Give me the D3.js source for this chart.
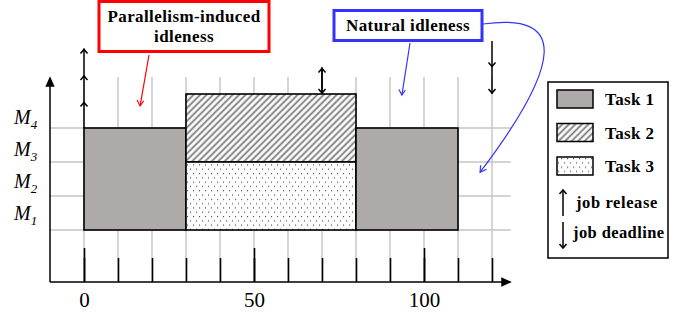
<!DOCTYPE html>
<html>
<head>
<meta charset="utf-8">
<script src="https://cdn.jsdelivr.net/npm/d3@7"></script>
<style>
  body { margin: 0; background: #fff; }
  .lbl { font-family: 'Liberation Serif', serif; font-weight: bold; letter-spacing: 0.4px; }
</style>
</head>
<body>
<script>
// schedule data (time units, machine rows)
const machines = ['M1', 'M2', 'M3', 'M4'];
const tickValues = [0, 10, 20, 30, 40, 50, 60, 70, 80, 90, 100, 110, 120];
const tickLabels = [0, 50, 100];
const blocks = [
  { task: 'Task 1', start: 0, end: 30, lo: 0, hi: 3 },
  { task: 'Task 2', start: 30, end: 80, lo: 2, hi: 4 },
  { task: 'Task 3', start: 30, end: 80, lo: 0, hi: 2 },
  { task: 'Task 1', start: 80, end: 110, lo: 0, hi: 3 },
];
// release / deadline arrows: time, count, base row
const releases = [{ t: 0, n: 3, base: 3 }, { t: 70, n: 1, base: 4 }];
const deadlines = [{ t: 70, n: 1, base: 4 }, { t: 120, n: 2, base: 4 }];
const legendItems = ['Task 1', 'Task 2', 'Task 3'];

const W = 688;
const H = 318;
const svg = d3.select('body').append('svg')
  .attr('width', W)
  .attr('height', H);

const x = d3.scaleLinear().domain([0, 120]).range([84, 492]);
const y = d3.scaleLinear().domain([0, 4]).range([230, 94]);
const axisY = 282;
const axisX = x(-10);
const arrowLen = 0.78;

const defs = svg.append('defs');
const hatch = defs.append('pattern')
  .attr('id', 'hatch')
  .attr('patternUnits', 'userSpaceOnUse')
  .attr('width', 4.6)
  .attr('height', 4.6)
  .attr('patternTransform', 'rotate(45)');
hatch.append('rect').attr('width', 4.6).attr('height', 4.6).attr('fill', '#fff');
hatch.append('line')
  .attr('x1', 1.5).attr('y1', 0).attr('x2', 1.5).attr('y2', 4.6)
  .attr('stroke', '#7a7a7a').attr('stroke-width', 1.8);

const dots = defs.append('pattern')
  .attr('id', 'dots')
  .attr('patternUnits', 'userSpaceOnUse')
  .attr('width', 6)
  .attr('height', 8.6);
dots.append('rect').attr('width', 6).attr('height', 8.6).attr('fill', '#fff');
dots.append('rect').attr('x', 1).attr('y', 1).attr('width', 1.1).attr('height', 1.1).attr('fill', '#444');
dots.append('rect').attr('x', 4).attr('y', 5.3).attr('width', 1.1).attr('height', 1.1).attr('fill', '#444');

const fills = { 'Task 1': '#aeaaa9', 'Task 2': 'url(#hatch)', 'Task 3': 'url(#dots)' };

// grid
svg.append('g').selectAll('line')
  .data(tickValues)
  .enter().append('line')
  .attr('x1', (d) => x(d)).attr('x2', (d) => x(d))
  .attr('y1', y(4.5)).attr('y2', axisY)
  .attr('stroke', '#c4c4c4').attr('stroke-width', 1.4);

svg.append('g').selectAll('line')
  .data(d3.range(machines.length))
  .enter().append('line')
  .attr('x1', axisX).attr('x2', x(125.5))
  .attr('y1', (d) => y(d)).attr('y2', (d) => y(d))
  .attr('stroke', '#c4c4c4').attr('stroke-width', 1.4);

// tick marks and labels
svg.append('g')
  .attr('transform', `translate(0,${axisY})`)
  .call(d3.axisBottom(x).tickValues(tickValues).tickSize(-24).tickFormat(''))
  .call((g) => g.select('.domain').remove())
  .call((g) => g.selectAll('.tick line').attr('stroke', '#000').attr('stroke-width', 1.6));

svg.append('g')
  .attr('transform', `translate(0,${axisY})`)
  .call(d3.axisBottom(x).tickValues(tickLabels).tickSize(-34).tickPadding(10))
  .call((g) => g.select('.domain').remove())
  .call((g) => g.selectAll('.tick line').attr('stroke', '#000').attr('stroke-width', 1.6))
  .call((g) => g.selectAll('.tick text')
    .attr('font-family', 'Liberation Serif, serif')
    .attr('font-size', 21)
    .attr('fill', '#000'));

// task blocks
svg.append('g').selectAll('rect')
  .data(blocks)
  .enter().append('rect')
  .attr('x', (d) => x(d.start))
  .attr('y', (d) => y(d.hi))
  .attr('width', (d) => x(d.end) - x(d.start))
  .attr('height', (d) => y(d.lo) - y(d.hi))
  .attr('fill', (d) => fills[d.task])
  .attr('stroke', '#000')
  .attr('stroke-width', 1.6);

// axes with arrow heads
const axes = svg.append('g').attr('stroke', '#000').attr('fill', 'none').attr('stroke-width', 1.5);
axes.append('line').attr('x1', axisX).attr('y1', axisY).attr('x2', axisX).attr('y2', 80);
axes.append('path').attr('d', `M${axisX - 3.5},${86} L${axisX},${78} L${axisX + 3.5},${86} Z`).attr('fill', '#000');
axes.append('line').attr('x1', axisX).attr('y1', axisY).attr('x2', 508).attr('y2', axisY);
axes.append('path').attr('d', `M${502},${axisY - 3.5} L${510},${axisY} L${502},${axisY + 3.5} Z`).attr('fill', '#000');

// machine labels
const ml = svg.append('g');
machines.forEach((m, i) => {
  const t = ml.append('text')
    .attr('x', 14)
    .attr('y', y(i + 0.3) + i * 2)
    .attr('font-family', 'Liberation Serif, serif')
    .attr('font-style', 'italic')
    .attr('font-size', 20);
  t.append('tspan').text('M');
  t.append('tspan').attr('dy', 5).attr('font-size', 13).text(m.slice(1));
});

// arrows
function chevron(cx, cy, dir) {
  return `M${cx - 3.5},${cy + 4 * dir} L${cx},${cy} L${cx + 3.5},${cy + 4 * dir}`;
}
const arr = svg.append('g').attr('stroke', '#000').attr('fill', 'none').attr('stroke-width', 1.5);
releases.forEach((r) => {
  arr.append('line')
    .attr('x1', x(r.t)).attr('x2', x(r.t))
    .attr('y1', y(r.base)).attr('y2', y(r.base + arrowLen * r.n));
  d3.range(1, r.n + 1).forEach((k) => {
    arr.append('path').attr('d', chevron(x(r.t), y(r.base + arrowLen * k) + 1, 1));
  });
});
deadlines.forEach((r) => {
  arr.append('line')
    .attr('x1', x(r.t)).attr('x2', x(r.t))
    .attr('y1', y(r.base)).attr('y2', y(r.base + arrowLen * r.n));
  d3.range(0, r.n).forEach((k) => {
    arr.append('path').attr('d', chevron(x(r.t), y(r.base + arrowLen * k) - 1, -1));
  });
});

// annotations
const red = svg.append('g');
red.append('rect')
  .attr('x', 99).attr('y', 1.5).attr('width', 170).attr('height', 50)
  .attr('fill', '#fff').attr('stroke', '#f00').attr('stroke-width', 3);
red.append('text').attr('class', 'lbl').attr('x', 184).attr('y', 22)
  .attr('text-anchor', 'middle').attr('font-size', 17).text('Parallelism-induced');
red.append('text').attr('class', 'lbl').attr('x', 184).attr('y', 42)
  .attr('text-anchor', 'middle').attr('font-size', 17).text('idleness');
red.append('line')
  .attr('x1', 149).attr('y1', 55).attr('x2', x(16.5)).attr('y2', y(3.65))
  .attr('stroke', '#f00').attr('stroke-width', 1.2);
red.append('path')
  .attr('d', `M${x(16.5) - 3},${y(3.65) - 6} L${x(16.5)},${y(3.65)} L${x(16.5) + 3.5},${y(3.65) - 5}`)
  .attr('stroke', '#f00').attr('fill', 'none').attr('stroke-width', 1.2);

const blue = svg.append('g');
blue.append('rect')
  .attr('x', 334).attr('y', 10.5).attr('width', 148).attr('height', 30)
  .attr('fill', '#fff').attr('stroke', '#33f').attr('stroke-width', 3);
blue.append('text').attr('class', 'lbl').attr('x', 408).attr('y', 31)
  .attr('text-anchor', 'middle').attr('font-size', 17).text('Natural idleness');
blue.append('line')
  .attr('x1', 410).attr('y1', 43).attr('x2', x(93.5)).attr('y2', y(3.97))
  .attr('stroke', '#33f').attr('stroke-width', 1.2);
blue.append('path')
  .attr('d', `M${x(93.5) - 3},${y(3.97) - 5.5} L${x(93.5)},${y(3.97)} L${x(93.5) + 3.5},${y(3.97) - 5}`)
  .attr('stroke', '#33f').attr('fill', 'none').attr('stroke-width', 1.2);
const tip = [x(116.5), y(1.7)];
blue.append('path')
  .attr('d', `M483,24 C568,12 562,64 ${tip[0]},${tip[1]}`)
  .attr('stroke', '#33f').attr('fill', 'none').attr('stroke-width', 1.2);
blue.append('path')
  .attr('d', `M${tip[0] + 0.5},${tip[1] - 7} L${tip[0]},${tip[1]} L${tip[0] + 6.5},${tip[1] - 3}`)
  .attr('stroke', '#33f').attr('fill', 'none').attr('stroke-width', 1.2);

// legend
const lg = svg.append('g').attr('transform', 'translate(548,82)');
lg.append('rect')
  .attr('width', 120).attr('height', 176)
  .attr('fill', '#fff').attr('stroke', '#000').attr('stroke-width', 1.5);
const li = lg.selectAll('.item')
  .data(legendItems)
  .enter().append('g')
  .attr('class', 'item')
  .attr('transform', (d, i) => `translate(0,${8 + i * 33.5})`);
li.append('rect')
  .attr('x', 9).attr('width', 36).attr('height', 18)
  .attr('fill', (d) => fills[d]).attr('stroke', '#000').attr('stroke-width', 1.5);
li.append('text').attr('class', 'lbl')
  .attr('x', 57).attr('y', 15).attr('font-size', 17).text((d) => d);

const la = lg.append('g').attr('stroke', '#000').attr('fill', 'none').attr('stroke-width', 1.5);
la.append('line').attr('x1', 15).attr('x2', 15).attr('y1', 108).attr('y2', 134);
la.append('path').attr('d', chevron(15, 108, 1));
la.append('line').attr('x1', 15).attr('x2', 15).attr('y1', 140).attr('y2', 166);
la.append('path').attr('d', chevron(15, 166, -1));
lg.append('text').attr('class', 'lbl').attr('x', 28).attr('y', 126)
  .attr('font-size', 16.5).style('letter-spacing', '0.6px').text('job release');
lg.append('text').attr('class', 'lbl').attr('x', 25).attr('y', 156)
  .attr('font-size', 16.5).style('letter-spacing', '0.4px').text('job deadline');
</script>
</body>
</html>
